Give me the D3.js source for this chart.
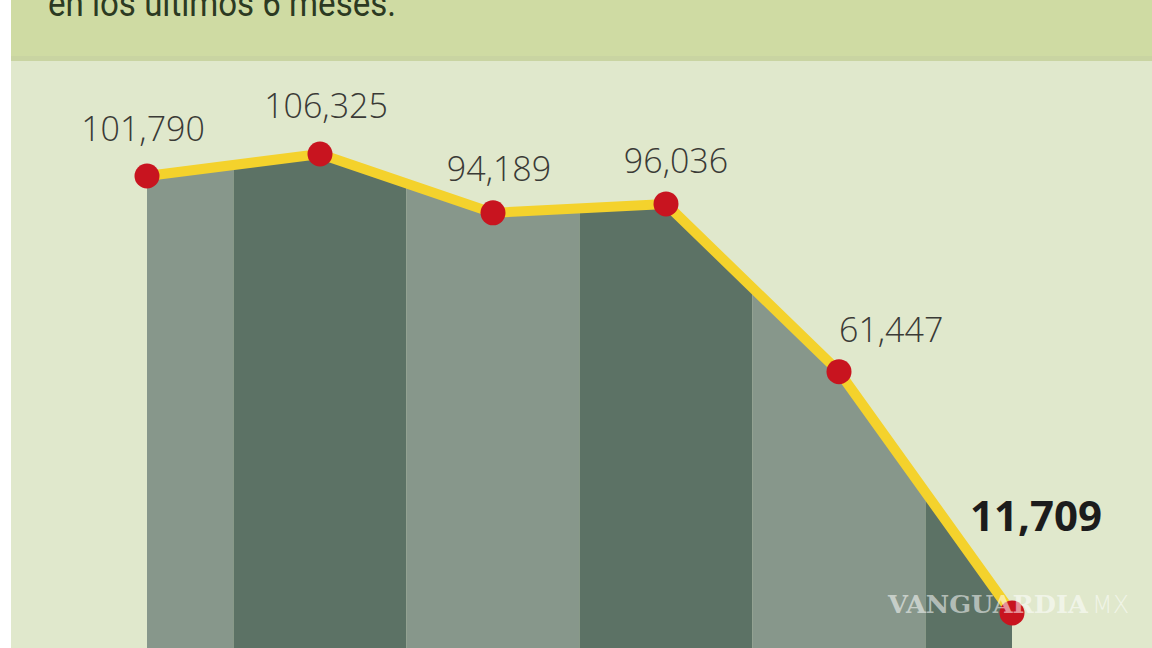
<!DOCTYPE html>
<html>
<head>
<meta charset="utf-8">
<script src="https://cdn.jsdelivr.net/npm/d3@7"></script>
<style>
  html, body { margin: 0; padding: 0; background: #fff; }
  svg { display: block; }
</style>
</head>
<body>
<div id="chart"></div>
<script>
// values, one per month (last six months)
var months = ["m1", "m2", "m3", "m4", "m5", "m6"]
var values = [101790, 106325, 94189, 96036, 61447, 11709]
var labels = ["101,790", "106,325", "94,189", "96,036", "61,447", "11,709"]
var subtitle = "en los últimos 6 meses."

// label placement relative to each point (layout only)
var labelAnchor = ["middle", "middle", "middle", "middle", "start", "start"]
var labelDx = [-4, 6, 6, 10, 0, -42]
var labelDy = [-35, -36, -32, -31, -30, -82]

var W = 1152, H = 648

var svg = d3.select('#chart').append('svg')
  .attr('width', W).attr('height', H)

// panel backgrounds
svg.append('rect').attr('x', 11).attr('y', 0).attr('width', W - 11).attr('height', H).attr('fill', '#e0e8cc')
svg.append('rect').attr('x', 11).attr('y', 0).attr('width', W - 11).attr('height', 60).attr('fill', '#cfdba3')
svg.append('rect').attr('x', 11).attr('y', 56).attr('width', W - 11).attr('height', 5).attr('fill', '#c9d4a2')

svg.append('text')
  .attr('x', 48).attr('y', 16)
  .attr('textLength', 348).attr('lengthAdjust', 'spacingAndGlyphs')
  .style('font-family', '"Liberation Sans Narrow", "Roboto", sans-serif')
  .style('font-size', '36px')
  .attr('fill', '#2c3a22')
  .text(subtitle)

var x = d3.scaleLinear().domain([0, months.length - 1]).range([147, 1012])
var y = d3.scaleLinear().domain([11709, 106325]).range([613, 154])

// area clip
var area = d3.area()
  .x(function(d, i) { return x(i) })
  .y0(H + 10)
  .y1(function(d) { return y(d) })

svg.append('clipPath').attr('id', 'areaClip')
  .append('path').attr('d', area(values))

// alternating column bands centred on each month
var bands = svg.append('g').attr('clip-path', 'url(#areaClip)')
months.forEach(function(m, i) {
  var x0 = i == 0 ? x(0) : (x(i - 1) + x(i)) / 2
  var x1 = i == months.length - 1 ? x(i) : (x(i) + x(i + 1)) / 2
  bands.append('rect')
    .attr('x', x0).attr('y', 0)
    .attr('width', x1 - x0).attr('height', H + 10)
    .attr('fill', i % 2 == 0 ? '#87978b' : '#5c7265')
})

// yellow line
var line = d3.line()
  .x(function(d, i) { return x(i) })
  .y(function(d) { return y(d) })

svg.append('path')
  .attr('d', line(values))
  .attr('fill', 'none')
  .attr('stroke', '#f4d22c')
  .attr('stroke-width', 10)
  .attr('stroke-linejoin', 'round')

// red dots
svg.selectAll('circle.dot').data(values).enter().append('circle')
  .attr('class', 'dot')
  .attr('cx', function(d, i) { return x(i) })
  .attr('cy', function(d) { return y(d) })
  .attr('r', 12.5)
  .attr('fill', '#c8141f')

// value labels
svg.selectAll('text.lbl').data(values).enter().append('text')
  .attr('class', 'lbl')
  .attr('x', function(d, i) { return x(i) + labelDx[i] })
  .attr('y', function(d, i) { return y(d) + labelDy[i] })
  .attr('text-anchor', function(d, i) { return labelAnchor[i] })
  .style('font-family', '"Open Sans", Lato, sans-serif')
  .style('font-size', function(d, i) { return i == values.length - 1 ? '42px' : '34px' })
  .style('font-weight', function(d, i) { return i == values.length - 1 ? 700 : 300 })
  .attr('fill', function(d, i) { return i == values.length - 1 ? '#1c1c1c' : '#3a3a36' })
  .text(function(d, i) { return labels[i] })

// watermark
var wm = svg.append('text')
  .attr('x', 888).attr('y', 613)
  .attr('fill', '#ffffff').attr('fill-opacity', 0.55)
wm.append('tspan')
  .style('font-family', '"DejaVu Serif", "Liberation Serif", serif')
  .style('font-weight', 700)
  .style('font-size', '25px')
  .attr('textLength', 200).attr('lengthAdjust', 'spacingAndGlyphs')
  .text('VANGUARDIA')
wm.append('tspan')
  .attr('dx', 4)
  .style('font-family', '"DejaVu Sans", sans-serif')
  .style('font-weight', 200)
  .style('font-size', '24px')
  .text('MX')
</script>
</body>
</html>
